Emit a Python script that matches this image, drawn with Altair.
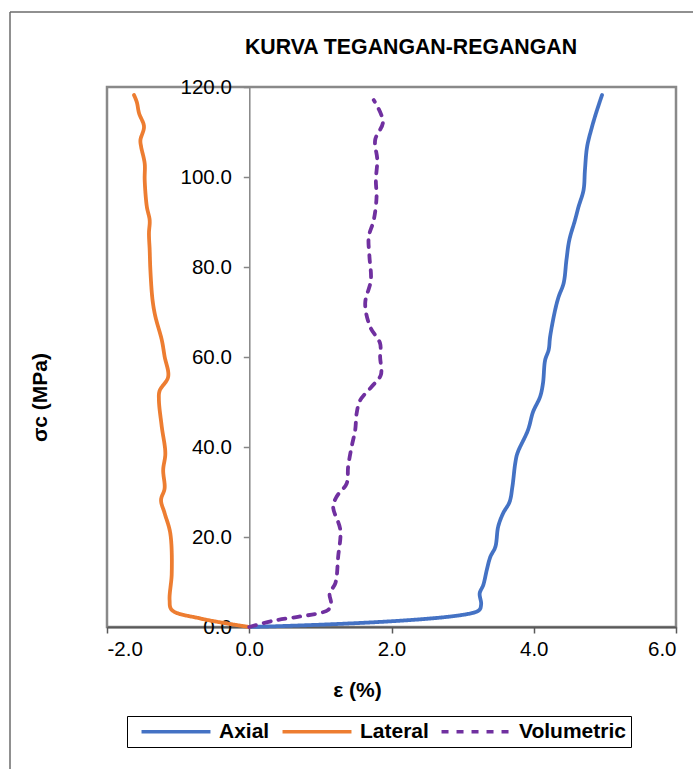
import altair as alt
import pandas as pd

# Stress-strain readings (strain in %, stress in MPa)
series_names = ["Axial", "Lateral", "Volumetric"]
series_colors = ["#4472C4", "#ED7D31", "#7030A0"]

axial_strain = [0.00, 3.22, 3.26, 3.24, 3.29, 3.34, 3.39, 3.46, 3.50, 3.57, 3.66, 3.70,
                3.74, 3.77, 3.92, 3.99, 4.09, 4.13, 4.16, 4.21, 4.23, 4.30, 4.35, 4.42,
                4.46, 4.50, 4.58, 4.63, 4.70, 4.72, 4.75, 4.82, 4.89, 4.96]
axial_stress = [0.0, 3.6, 5.0, 7.5, 9.3, 12.7, 15.6, 17.8, 22.3, 25.3, 27.8, 31.2,
                36.4, 38.6, 43.8, 47.8, 51.2, 54.2, 59.3, 61.6, 64.5, 70.4, 73.4, 76.4,
                81.6, 86.0, 90.4, 93.4, 97.1, 101.6, 106.7, 111.2, 114.9, 118.2]

lateral_strain = [0.00, -0.69, -1.09, -1.12, -1.09, -1.11, -1.19, -1.24, -1.19, -1.21,
                  -1.18, -1.23, -1.27, -1.26, -1.14, -1.19, -1.23, -1.32, -1.36, -1.39,
                  -1.40, -1.41, -1.40, -1.44, -1.47, -1.47, -1.52, -1.53, -1.48, -1.55,
                  -1.58, -1.62]
lateral_stress = [0.0, 1.9, 3.8, 6.0, 11.9, 20.8, 25.3, 28.2, 30.8, 34.9,
                  38.6, 44.5, 50.4, 52.5, 55.6, 60.1, 63.8, 69.0, 72.7, 79.3,
                  83.8, 87.5, 90.4, 93.4, 99.3, 103.0, 106.7, 108.2, 111.2, 114.2,
                  116.6, 118.2]

volumetric_strain = [0.00, 0.34, 0.70, 0.99, 1.11, 1.15, 1.13, 1.21, 1.25, 1.28,
                     1.18, 1.23, 1.37, 1.39, 1.44, 1.49, 1.51, 1.56, 1.72, 1.85, 1.84,
                     1.84, 1.70, 1.63, 1.71, 1.69, 1.68, 1.75, 1.79, 1.78, 1.80, 1.77,
                     1.88, 1.75]
volumetric_stress = [0.0, 1.4, 2.3, 3.1, 3.8, 5.2, 7.5, 9.7, 15.6, 21.6,
                     26.7, 29.0, 31.9, 35.6, 40.1, 43.8, 47.5, 50.4, 53.4, 56.0, 60.0,
                     63.0, 66.7, 71.9, 77.1, 82.3, 86.7, 90.4, 95.6, 99.3, 103.8, 108.2,
                     112.3, 117.1]

x_ticks = [-2, 0, 2, 4, 6]
y_ticks = [0, 20, 40, 60, 80, 100, 120]

chart_title = "KURVA TEGANGAN-REGANGAN"
x_title = "ε (%)"
y_title = "σc (MPa)"

rows = []
for name, xs, ys in [("Axial", axial_strain, axial_stress),
                     ("Lateral", lateral_strain, lateral_stress),
                     ("Volumetric", volumetric_strain, volumetric_stress)]:
    for i, (sx, sy) in enumerate(zip(xs, ys)):
        rows.append({"series": name, "strain": sx, "stress": sy, "idx": i})
df = pd.DataFrame(rows)

FONT = "Liberation Sans"

# wide horizontal line glyph for the legend (unit box is [-1, 1])
legend_glyph = "M-4.31,0H4.31"

legend_cfg = alt.Legend(
    title=None, orient="none", legendX=20, legendY=629, direction="horizontal",
    strokeColor="black", padding=5, symbolType=legend_glyph, symbolSize=256,
    symbolStrokeWidth=3.5, symbolOffset=33.5, labelOffset=32.5, columnPadding=3,
    labelFont=FONT, labelFontSize=21, labelFontWeight="bold", labelColor="black",
)

lines = alt.Chart(df).mark_line(strokeWidth=3.8, strokeCap="round", strokeJoin="round",
                                interpolate="catmull-rom").encode(
    x=alt.X("strain:Q", scale=alt.Scale(domain=[-2, 6], nice=False, zero=False),
            axis=alt.Axis(values=x_ticks, title=x_title,
                          labelExpr="replace(format(datum.value, '.1f'), '\u2212', '-')",
                          labelFont=FONT, labelFontSize=20.5, labelColor="black",
                          labelPadding=6, tickSize=6, tickColor="#595959", tickWidth=1.5,
                          domainColor="#595959", domainWidth=2, grid=False,
                          titleFont=FONT, titleFontSize=21, titleFontWeight="bold",
                          titleColor="black", titleX=250, titleY=63,
                          titleBaseline="middle", titleAlign="center")),
    y=alt.Y("stress:Q", scale=alt.Scale(domain=[0, 120], nice=False),
            axis=alt.Axis(values=y_ticks, title=y_title, format=".1f", offset=-142.3,
                          labelFont=FONT, labelFontSize=20.5, labelColor="black",
                          labelPadding=12, tickSize=6, tickColor="#868686", tickWidth=1.5,
                          domainColor="#868686", domainWidth=1.5, grid=False,
                          titleFont=FONT, titleFontSize=21, titleFontWeight="bold",
                          titleColor="black", titleX=-209, titleY=310, titleAngle=270,
                          titleBaseline="middle", titleAlign="center")),
    color=alt.Color("series:N", scale=alt.Scale(domain=series_names, range=series_colors),
                    legend=legend_cfg),
    strokeDash=alt.StrokeDash("series:N",
                              scale=alt.Scale(domain=series_names, range=[[1, 0], [1, 0], [7, 8]]),
                              legend=legend_cfg),
    order="idx:Q",
)

title_df = pd.DataFrame({"t": [chart_title]})
title = alt.Chart(title_df).mark_text(
    font=FONT, fontSize=21.3, fontWeight="bold", color="black", baseline="middle", align="center"
).encode(text="t:N", x=alt.value(304), y=alt.value(-39))

# outer chart frame (left and top edges)
frame_df = pd.DataFrame({"k": [0]})
frame_left = alt.Chart(frame_df).mark_rule(color="#6b6b6b", strokeWidth=1.5).encode(
    x=alt.value(-97), y=alt.value(-75), y2=alt.value(690))
frame_top = alt.Chart(frame_df).mark_rule(color="#6b6b6b", strokeWidth=1.5).encode(
    x=alt.value(-97), x2=alt.value(600), y=alt.value(-75))

chart = alt.layer(frame_left, frame_top, title, lines).properties(
    width=569, height=540,
    autosize=alt.AutoSizeParams(type="none"),
    padding={"left": 107, "top": 87, "right": 17, "bottom": 142},
    background="white",
).configure_view(stroke="#898989", strokeWidth=2.5)

chart.save("out.html", embed_options={"renderer": "svg", "actions": False})
